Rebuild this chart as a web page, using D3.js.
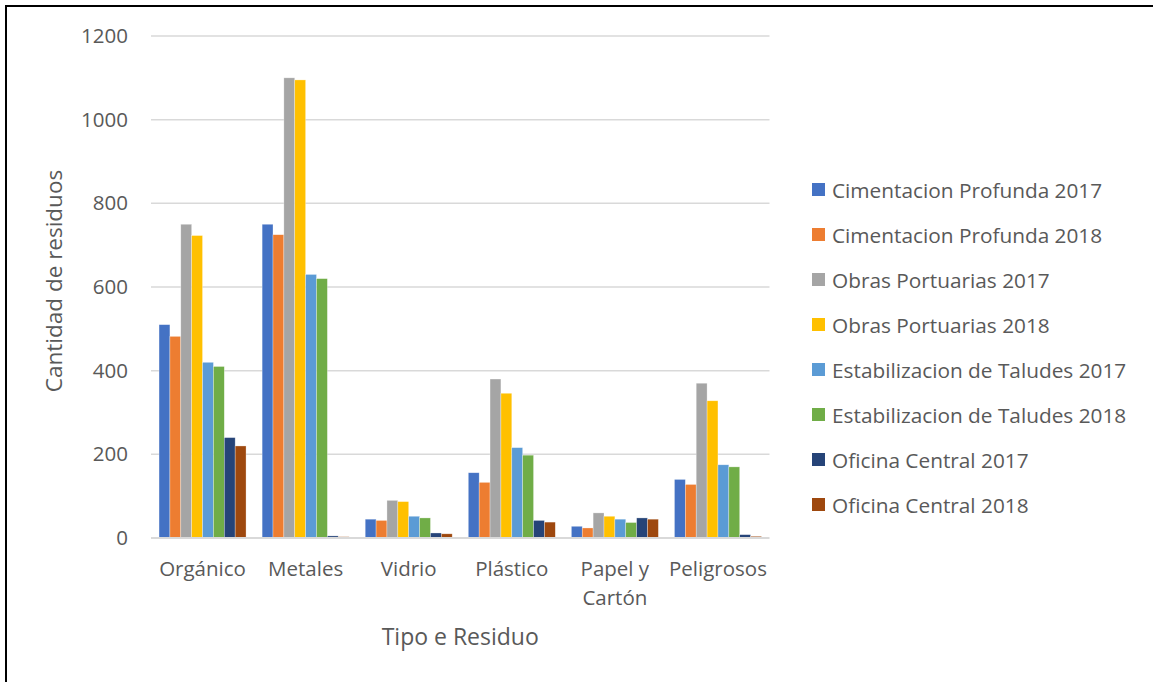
<!DOCTYPE html>
<html>
<head>
<meta charset="utf-8">
<script src="https://cdn.jsdelivr.net/npm/d3@7"></script>
<style>
  html, body { margin: 0; padding: 0; background: #fff; }
  svg { display: block; }
  text { font-family: "Open Sans", "Noto Sans", sans-serif; fill: #595959; }
</style>
</head>
<body>
<svg id="chart" width="1153" height="682"></svg>
<script>
// Waste categories
const categories = ["Orgánico", "Metales", "Vidrio", "Plástico", "Papel y Cartón", "Peligrosos"];

// Series names (legend order)
const seriesNames = [
  "Cimentacion Profunda 2017",
  "Cimentacion Profunda 2018",
  "Obras Portuarias 2017",
  "Obras Portuarias 2018",
  "Estabilizacion de Taludes 2017",
  "Estabilizacion de Taludes 2018",
  "Oficina Central 2017",
  "Oficina Central 2018"
];

// Quantities per series, in category order
const cimentacion2017   = [510, 750, 45, 156, 28, 140];
const cimentacion2018   = [482, 725, 42, 133, 24, 128];
const portuarias2017    = [750, 1100, 90, 380, 60, 370];
const portuarias2018    = [723, 1095, 87, 346, 52, 328];
const taludes2017       = [420, 630, 52, 216, 45, 175];
const taludes2018       = [410, 620, 48, 198, 37, 170];
const oficina2017       = [240, 5, 12, 42, 48, 8];
const oficina2018       = [220, 3, 10, 38, 45, 4];

const seriesValues = [
  cimentacion2017, cimentacion2018, portuarias2017, portuarias2018,
  taludes2017, taludes2018, oficina2017, oficina2018
];

const seriesColors = ["#4472C4", "#ED7D31", "#A5A5A5", "#FFC000", "#5B9BD5", "#70AD47", "#264478", "#9E480E"];

const yTicks = [0, 200, 400, 600, 800, 1000, 1200];

const svg = d3.select("#chart");

// Outer frame
svg.append("rect")
  .attr("x", 6).attr("y", 6)
  .attr("width", 1170).attr("height", 700)
  .attr("fill", "none").attr("stroke", "#000").attr("stroke-width", 2);

const plot = { left: 151, right: 769.5, top: 36, bottom: 538 };

const x = d3.scaleBand()
  .domain(categories)
  .range([plot.left, plot.right])
  .paddingInner(0.156)
  .paddingOuter(0.078);

const xs = d3.scaleBand()
  .domain(seriesNames)
  .range([0, x.bandwidth()]);

const y = d3.scaleLinear()
  .domain([0, 1200])
  .range([plot.bottom, plot.top]);

// Gridlines
svg.append("g")
  .selectAll("line")
  .data(yTicks.filter(d => d > 0))
  .join("line")
  .attr("x1", plot.left).attr("x2", plot.right)
  .attr("y1", d => y(d)).attr("y2", d => y(d))
  .attr("stroke", "#d9d9d9").attr("stroke-width", 1.5);

// Y axis labels
const yAxis = d3.axisLeft(y)
  .tickValues(yTicks)
  .tickFormat(d3.format("d"))
  .tickSize(0)
  .tickPadding(23);
const gy = svg.append("g").attr("transform", `translate(${plot.left},0)`).call(yAxis);
gy.select(".domain").remove();
gy.selectAll("text")
  .style("font-size", "20.5px")
  .attr("fill", "#595959")
  .attr("font-family", "Open Sans");

// Bars
const groups = svg.append("g")
  .selectAll("g")
  .data(seriesNames.map((name, i) => ({ name, values: seriesValues[i], color: seriesColors[i] })))
  .join("g")
  .attr("fill", d => d.color);

groups.selectAll("rect")
  .data(d => d.values.map((v, j) => ({ name: d.name, cat: categories[j], v })))
  .join("rect")
  .attr("x", d => x(d.cat) + xs(d.name))
  .attr("y", d => y(d.v))
  .attr("width", xs.bandwidth())
  .attr("height", d => y(0) - y(d.v))
  .attr("stroke", "#fff")
  .attr("stroke-opacity", 0.5)
  .attr("stroke-width", 0.6);

// X axis line
svg.append("line")
  .attr("x1", plot.left).attr("x2", plot.right)
  .attr("y1", y(0)).attr("y2", y(0))
  .attr("stroke", "#d9d9d9").attr("stroke-width", 2);

// X axis labels (wrapped)
const xLabelLines = {
  "Papel y Cartón": ["Papel y", "Cartón"]
};
const xl = svg.append("g");
categories.forEach(c => {
  const lines = xLabelLines[c] || [c];
  const t = xl.append("text")
    .attr("x", x(c) + x.bandwidth() / 2)
    .attr("y", 576)
    .attr("text-anchor", "middle")
    .style("font-size", "20.5px");
  lines.forEach((ln, i) => {
    t.append("tspan")
      .attr("x", x(c) + x.bandwidth() / 2)
      .attr("dy", i === 0 ? 0 : 29)
      .text(ln);
  });
});

// Axis titles
svg.append("text")
  .attr("x", (plot.left + plot.right) / 2)
  .attr("y", 645)
  .attr("text-anchor", "middle")
  .style("font-size", "23px")
  .text("Tipo e Residuo");

svg.append("text")
  .attr("transform", `translate(62,281) rotate(-90)`)
  .attr("text-anchor", "middle")
  .style("font-size", "22.5px")
  .text("Cantidad de residuos");

// Legend
const legend = svg.append("g");
seriesNames.forEach((name, i) => {
  const cy = 189.5 + i * 45;
  legend.append("rect")
    .attr("x", 812).attr("y", cy - 6.5)
    .attr("width", 13).attr("height", 13)
    .attr("fill", seriesColors[i]);
  legend.append("text")
    .attr("x", 832).attr("y", cy)
    .attr("dominant-baseline", "central")
    .style("font-size", "20.8px")
    .text(name);
});
</script>
</body>
</html>
